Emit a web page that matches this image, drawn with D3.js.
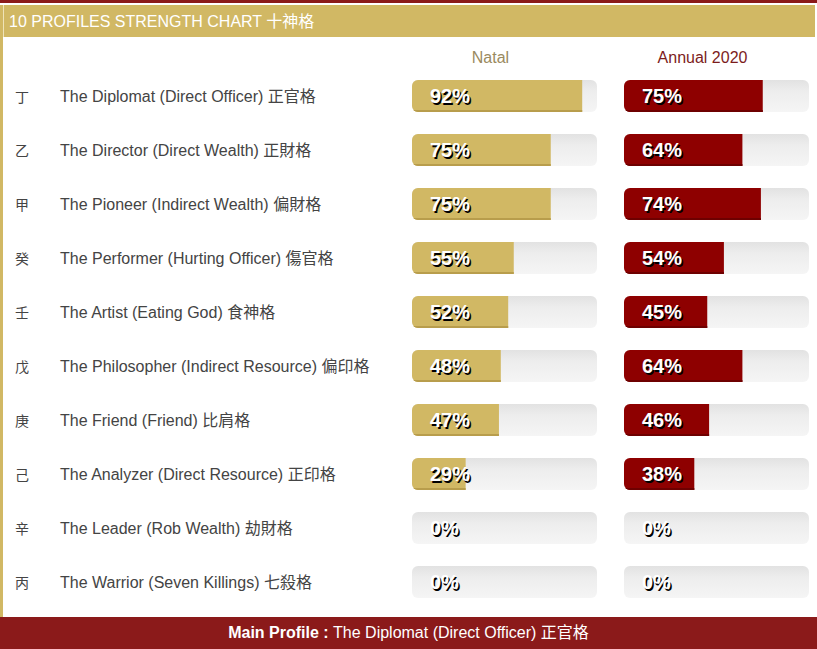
<!DOCTYPE html>
<html>
<head>
<meta charset="utf-8">
<script src="https://cdn.jsdelivr.net/npm/d3@7"></script>
<style>
  body { margin: 0; background: #fff; }
  svg { display: block; }
</style>
</head>
<body>
<script>
const width = 817;
const height = 649;

// data
const stems = ["丁", "乙", "甲", "癸", "壬", "戊", "庚", "己", "辛", "丙"];
const profiles = [
    "The Diplomat (Direct Officer) 正官格",
    "The Director (Direct Wealth) 正財格",
    "The Pioneer (Indirect Wealth) 偏財格",
    "The Performer (Hurting Officer) 傷官格",
    "The Artist (Eating God) 食神格",
    "The Philosopher (Indirect Resource) 偏印格",
    "The Friend (Friend) 比肩格",
    "The Analyzer (Direct Resource) 正印格",
    "The Leader (Rob Wealth) 劫財格",
    "The Warrior (Seven Killings) 七殺格"
];
const natal = [92, 75, 75, 55, 52, 48, 47, 29, 0, 0];
const annual = [75, 64, 74, 54, 45, 64, 46, 38, 0, 0];
const seriesNames = ["Natal", "Annual 2020"];
const title = "10 PROFILES STRENGTH CHART 十神格";
const mainProfile = "The Diplomat (Direct Officer) 正官格";

const color = {
    red: "#8b1a1a",
    gold: "#d1b864",
    goldDark: "#b89d4c",
    fillRed: "#8e0000",
    fillRedDark: "#6e0000",
    natalText: "#9a8a60",
    annualText: "#7c1c1c",
    label: "#444"
};

const font = "Arial, 'Liberation Sans', 'Noto Sans CJK SC', sans-serif";

let svg = d3.select("body").append("svg")
    .attr("width", width)
    .attr("height", height)
    .style("font-family", font);

let defs = svg.append("defs");
let trackGrad = defs.append("linearGradient")
    .attr("id", "trackGrad")
    .attr("x1", 0).attr("y1", 0).attr("x2", 0).attr("y2", 1);
trackGrad.append("stop").attr("offset", "0%").attr("stop-color", "#e2e2e2");
trackGrad.append("stop").attr("offset", "35%").attr("stop-color", "#ededed");
trackGrad.append("stop").attr("offset", "100%").attr("stop-color", "#f5f5f5");

// top line + header band
svg.append("rect").attr("x", 0).attr("y", 0).attr("width", width).attr("height", 3).attr("fill", color.red);
svg.append("rect").attr("x", 0).attr("y", 5).attr("width", width - 2).attr("height", 32).attr("fill", color.gold);
svg.append("rect").attr("x", 0).attr("y", 5).attr("width", 3).attr("height", height - 5).attr("fill", color.gold);
svg.append("rect").attr("x", 3).attr("y", 5).attr("width", 1).attr("height", 32).attr("fill", "#efe3b8");

svg.append("text")
    .attr("x", 9)
    .attr("y", 27)
    .attr("fill", "#fff")
    .attr("font-size", 16)
    .text(title);

// scales
let y = d3.scalePoint()
    .domain(d3.range(profiles.length))
    .range([96, 582]);

const barW = 185, barH = 32;
let x = d3.scaleLinear().domain([0, 100]).range([0, barW]);
let colX = d3.scaleOrdinal().domain(seriesNames).range([412, 624]);

// column headers
svg.selectAll(".colhead")
    .data(seriesNames)
    .enter()
    .append("text")
    .attr("class", "colhead")
    .attr("x", d => colX(d) + barW / 2 - 14)
    .attr("y", 63)
    .attr("text-anchor", "middle")
    .attr("font-size", 16)
    .attr("fill", (d, i) => i === 0 ? color.natalText : color.annualText)
    .text(d => d);

// row labels
let rows = svg.selectAll(".row")
    .data(profiles)
    .enter()
    .append("g")
    .attr("class", "row")
    .attr("transform", (d, i) => "translate(0," + y(i) + ")");

rows.append("text")
    .attr("x", 15)
    .attr("y", 6)
    .attr("font-size", 14)
    .attr("fill", color.label)
    .text((d, i) => stems[i]);

rows.append("text")
    .attr("x", 60)
    .attr("y", 6)
    .attr("font-size", 16)
    .attr("fill", color.label)
    .text(d => d);

// bars
const series = [
    { name: seriesNames[0], values: natal, fill: color.gold, dark: color.goldDark },
    { name: seriesNames[1], values: annual, fill: color.fillRed, dark: color.fillRedDark }
];

series.forEach(function (s, si) {
    let g = svg.append("g").attr("transform", "translate(" + colX(s.name) + ",0)");
    s.values.forEach(function (v, i) {
        let cy = y(i);
        let clipId = "clip" + si + "_" + i;
        defs.append("clipPath").attr("id", clipId)
            .append("rect")
            .attr("x", 0).attr("y", cy - barH / 2)
            .attr("width", barW).attr("height", barH)
            .attr("rx", 6);

        g.append("rect")
            .attr("x", 0).attr("y", cy - barH / 2)
            .attr("width", barW).attr("height", barH)
            .attr("rx", 6)
            .attr("fill", "url(#trackGrad)");

        let bar = g.append("g").attr("clip-path", "url(#" + clipId + ")");
        bar.append("rect")
            .attr("x", 0).attr("y", cy - barH / 2)
            .attr("width", x(v)).attr("height", barH)
            .attr("fill", s.fill);
        bar.append("rect")
            .attr("x", 0).attr("y", cy + barH / 2 - 2)
            .attr("width", x(v)).attr("height", 2)
            .attr("fill", s.dark);

        // label with shadow
        g.append("text")
            .attr("x", 19.5).attr("y", cy + 8.5)
            .attr("font-size", 20)
            .attr("font-weight", "bold")
            .attr("fill", "#000")
            .text(v + "%");
        g.append("text")
            .attr("x", 18).attr("y", cy + 7)
            .attr("font-size", 20)
            .attr("font-weight", "bold")
            .attr("fill", "#fff")
            .text(v + "%");
    });
});

// footer
svg.append("rect").attr("x", 0).attr("y", 617).attr("width", width).attr("height", 32).attr("fill", color.red);
let foot = svg.append("text")
    .attr("x", width / 2)
    .attr("y", 638)
    .attr("text-anchor", "middle")
    .attr("fill", "#fff")
    .attr("font-size", 16);
foot.append("tspan").attr("font-weight", "bold").text("Main Profile : ");
foot.append("tspan").text(mainProfile);
</script>
</body>
</html>
